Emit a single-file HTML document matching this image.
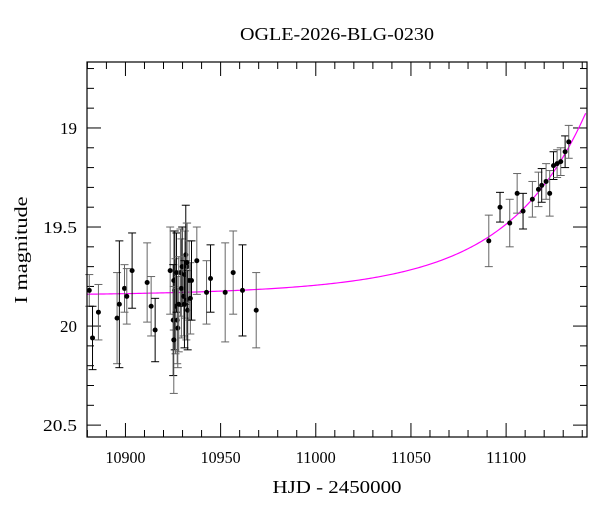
<!DOCTYPE html>
<html><head><meta charset="utf-8">
<style>
html,body{margin:0;padding:0;background:#fff;}
svg{display:block;font-family:"Liberation Serif",serif;}
</style></head>
<body>
<svg id="chart" width="600" height="512" viewBox="0 0 600 512" xmlns="http://www.w3.org/2000/svg">
<text x="337" y="40" text-anchor="middle" font-size="18" textLength="194" lengthAdjust="spacingAndGlyphs">OGLE-2026-BLG-0230</text>
<text x="337" y="493" text-anchor="middle" font-size="18" textLength="129" lengthAdjust="spacingAndGlyphs">HJD - 2450000</text>
<text transform="translate(27,250) rotate(-90)" text-anchor="middle" font-size="18" textLength="107" lengthAdjust="spacingAndGlyphs">I magnitude</text>
<g id="axes"></g>
<g id="model"></g>
<g id="data"></g>
<rect x="87" y="62" width="500" height="375" fill="none" stroke="#000" stroke-width="1.2"/>
</svg>
<script>
const hjd=[10881,10882.7,10885.8,10895.6,10896.8,10899.5,10900.7,10903.5,10911.4,10913.5,10915.6,
10923.5,10925.4,10925.9,10926.3,10927.2,10925.1,10927.5,10925.4,10926.8,10928.9,10929.4,10929.8,10930.6,10931.2,10931.7,10932,10932.4,10932.7,10933.5,10934.1,10934.7,10932.2,10928,10931,
10937.5,10942.6,10944.7,10952.4,10956.6,10961.5,10968.7,
11090.9,11096.8,11101.9,11105.8,11108.9,11113.8,11117,11118.7,11121,11122.9,11124.9,11126.8,11128.7,11131,11132.9];
const mag=[19.82,20.06,19.93,19.96,19.89,19.81,19.85,19.72,19.78,19.90,20.02,
19.72,19.77,19.82,19.90,19.97,19.97,20.01,20.07,19.73,19.73,19.81,19.70,19.85,19.74,19.64,19.87,19.70,19.92,19.77,19.86,19.77,19.68,19.89,19.89,
19.67,19.83,19.76,19.83,19.73,19.82,19.92,
19.57,19.40,19.48,19.33,19.42,19.36,19.31,19.29,19.27,19.33,19.19,19.18,19.17,19.12,19.07];
const err=[0.08,0.16,0.14,0.23,0.32,0.12,0.14,0.19,0.2,0.15,0.16,
0.22,0.25,0.3,0.24,0.22,0.28,0.2,0.27,0.2,0.22,0.25,0.2,0.2,0.22,0.25,0.2,0.22,0.2,0.2,0.18,0.2,0.2,0.24,0.22,
0.17,0.16,0.17,0.25,0.21,0.23,0.19,
0.13,0.075,0.12,0.1,0.09,0.09,0.087,0.085,0.09,0.115,0.07,0.07,0.07,0.08,0.083];
const xTicks=[10900,10950,11000,11050,11100];
const yTicks=[19,19.5,20,20.5];
const model={t0:11177,u0:0.2,tE:85,base:19.85};

const NS="http://www.w3.org/2000/svg";
const X0=87,X1=587,Y0=62,Y1=437;
const tMin=10879.8,tMax=11142.5;
const mTop=18.667,mBot=20.56;
function sx(t){return X0+(t-tMin)/(tMax-tMin)*(X1-X0);}
function sy(m){return Y0+(m-mTop)/(mBot-mTop)*(Y1-Y0);}
function mk(tag,attrs,parent){const e=document.createElementNS(NS,tag);for(const k in attrs)e.setAttribute(k,attrs[k]);parent.appendChild(e);return e;}
const axes=document.getElementById('axes');
for(let t=10880;t<=11140;t+=10){
  const major=(t%50===0);const L=major?14:7;const x=sx(t);
  if(x<X0||x>X1)continue;
  const a=mk('line',{x1:x,x2:x,y1:Y1,y2:Y1-L,stroke:'#000','stroke-width':1},axes);
  
  
  const b=mk('line',{x1:x,x2:x,y1:Y0,y2:Y0+L,stroke:'#000','stroke-width':1},axes);
  
  
}
xTicks.forEach(t=>{
  const e=mk('text',{x:sx(t),y:463,'text-anchor':'middle','font-size':17,textLength:40,lengthAdjust:'spacingAndGlyphs'},axes);
  e.textContent=t;
  
  
});
for(let i=0;i<=19;i++){
  const m=18.7+i*0.1;const y=sy(m);if(y<Y0||y>Y1)continue;
  const major=Math.abs(m*2-Math.round(m*2))<1e-6;const L=major?14:7;
  const a=mk('line',{x1:X0,x2:X0+L,y1:y,y2:y,stroke:'#000','stroke-width':1},axes);
  
  
  const b=mk('line',{x1:X1,x2:X1-L,y1:y,y2:y,stroke:'#000','stroke-width':1},axes);
  
  
}
yTicks.forEach(m=>{
  const s=String(m);
  const e=mk('text',{x:77,y:sy(m)+6,'text-anchor':'end','font-size':17,textLength:s.length*8.5,lengthAdjust:'spacingAndGlyphs'},axes);
  e.textContent=s;
  
  
});
function A(t){const tau=(t-model.t0)/model.tE;const u=Math.sqrt(model.u0*model.u0+tau*tau);return (u*u+2)/(u*Math.sqrt(u*u+4));}
let d='';
for(let t=tMin;t<=tMax;t+=1){const m=model.base-2.5*Math.log10(A(t));d+=(d?'L':'M')+sx(t).toFixed(2)+','+sy(m).toFixed(2);}
const cp=mk('path',{d:d,fill:'none',stroke:'#ff00ff','stroke-width':1.2},document.getElementById('model'));


const dg=document.getElementById('data');
hjd.forEach((t,i)=>{
  const x=sx(t),y=sy(mag[i]),ya=sy(mag[i]-err[i]),yb=sy(mag[i]+err[i]);
  const col=(i%3===1)?'#000':'#666';
  const g=mk('g',{},dg);
  
  
  mk('line',{x1:x,x2:x,y1:ya,y2:yb,stroke:col,'stroke-width':1},g);
  mk('line',{x1:x-4,x2:x+4,y1:ya,y2:ya,stroke:col,'stroke-width':1},g);
  mk('line',{x1:x-4,x2:x+4,y1:yb,y2:yb,stroke:col,'stroke-width':1},g);
  mk('circle',{cx:x,cy:y,r:2.5,fill:'#000'},g);
});
</script>
</body></html>
